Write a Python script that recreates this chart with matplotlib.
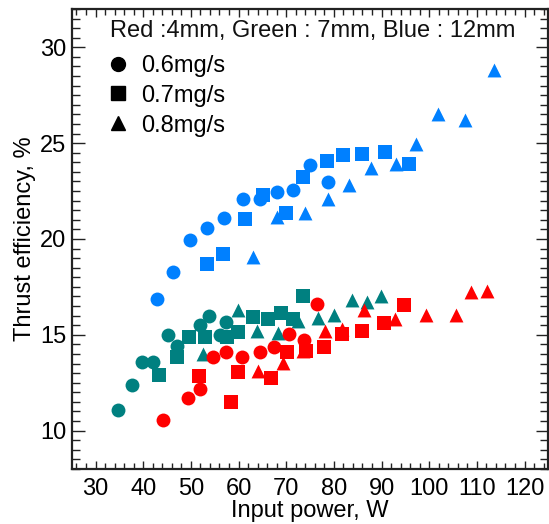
import matplotlib
matplotlib.use("Agg")
import matplotlib.pyplot as plt
from matplotlib.ticker import MultipleLocator, FixedLocator
from matplotlib.lines import Line2D

plt.rcParams['font.family'] = ['Liberation Sans', 'DejaVu Sans']

# ---- data (Input power W, Thrust efficiency %) ----
blue_circ_x = [42.8, 46.3, 49.8, 53.3, 57.0, 61.0, 64.5, 68.0, 71.5, 74.9, 78.7]
blue_circ_y = [16.88, 18.26, 19.95, 20.59, 21.09, 22.08, 22.08, 22.46, 22.58, 23.88, 22.97]
blue_sq_x = [53.3, 56.7, 61.4, 65.1, 69.9, 73.6, 78.5, 82.0, 86.0, 90.7, 95.7]
blue_sq_y = [18.71, 19.19, 21.02, 22.28, 21.33, 23.23, 24.05, 24.36, 24.44, 24.56, 23.92]
blue_tri_x = [63.1, 68.0, 73.9, 78.7, 83.2, 87.8, 93.0, 97.2, 101.9, 107.5, 113.6]
blue_tri_y = [19.04, 21.16, 21.33, 22.11, 22.80, 23.70, 23.92, 24.93, 26.51, 26.20, 28.81]

teal_circ_x = [34.8, 37.6, 39.8, 42.1, 45.1, 47.0, 51.9, 53.7, 56.1, 57.3]
teal_circ_y = [11.06, 12.39, 13.60, 13.60, 14.98, 14.39, 15.50, 15.98, 14.98, 15.68]
teal_sq_x = [43.3, 47.0, 49.7, 53.0, 57.5, 59.8, 63.0, 66.1, 68.9, 71.5, 73.6]
teal_sq_y = [12.92, 13.85, 14.86, 14.86, 14.86, 15.15, 15.94, 15.81, 16.15, 15.81, 17.02]
teal_tri_x = [52.5, 59.9, 63.8, 68.3, 72.5, 76.7, 80.1, 83.7, 86.9, 89.9]
teal_tri_y = [14.0, 16.29, 15.20, 15.11, 15.72, 15.89, 16.03, 16.79, 16.70, 17.02]

red_circ_x = [44.2, 49.3, 51.9, 54.7, 57.3, 60.7, 64.5, 67.5, 70.6, 73.7, 76.4]
red_circ_y = [10.58, 11.69, 12.18, 13.85, 14.08, 13.85, 14.08, 14.37, 15.06, 14.72, 16.59]
red_sq_x = [51.7, 58.4, 59.8, 66.8, 70.1, 74.2, 77.9, 81.8, 85.8, 90.5, 94.7]
red_sq_y = [12.83, 11.52, 13.04, 12.73, 14.11, 14.17, 14.34, 15.06, 15.20, 15.63, 16.55]
red_tri_x = [64.1, 69.3, 73.6, 78.1, 81.6, 86.4, 92.8, 99.3, 105.6, 108.8, 112.1]
red_tri_y = [13.13, 13.51, 14.17, 15.20, 15.29, 16.27, 15.81, 16.02, 16.02, 17.22, 17.31]

header = "Red :4mm, Green : 7mm, Blue : 12mm"
legend_labels = ["0.6mg/s", "0.7mg/s", "0.8mg/s"]
xlabel = "Input power, W"
ylabel = "Thrust efficiency, %"

BLUE = "#0080FF"
TEAL = "#008080"
RED = "#FF0000"

FS = 17

fig = plt.figure(figsize=(5.49, 5.24), dpi=100)
ax = fig.add_axes([0.1306, 0.105, 0.8683, 0.8779])

S_C, S_S, S_T = 100, 100, 100
groups = [
    (BLUE, blue_circ_x, blue_circ_y, blue_sq_x, blue_sq_y, blue_tri_x, blue_tri_y),
    (TEAL, teal_circ_x, teal_circ_y, teal_sq_x, teal_sq_y, teal_tri_x, teal_tri_y),
    (RED, red_circ_x, red_circ_y, red_sq_x, red_sq_y, red_tri_x, red_tri_y),
]
for col, cx, cy, sx, sy, tx, ty in groups:
    ax.scatter(tx, ty, s=S_T, marker='^', color=col, linewidths=0, zorder=3)
    ax.scatter(cx, cy, s=S_C, marker='o', color=col, linewidths=0, zorder=3)
    ax.scatter(sx, sy, s=S_S, marker='s', color=col, linewidths=0, zorder=3)

ax.set_xlim(25, 125)
ax.set_ylim(8, 32)
ax.xaxis.set_major_locator(FixedLocator(list(range(30, 121, 10))))
ax.xaxis.set_minor_locator(MultipleLocator(2))
ax.yaxis.set_major_locator(FixedLocator([10, 15, 20, 25, 30]))
ax.yaxis.set_minor_locator(MultipleLocator(0.5))

ax.tick_params(axis='both', which='both', direction='in', top=True, right=True,
               color='#222222', width=1.0)
ax.tick_params(axis='x', which='major', length=6, labelsize=FS, pad=6.5)
ax.tick_params(axis='x', which='minor', length=4)
ax.tick_params(axis='y', which='major', length=9, labelsize=FS, pad=4)
ax.tick_params(axis='y', which='minor', length=6)

for t in ax.xaxis.get_major_ticks():
    if abs(t.get_loc() - 100) < 1e-6:
        t.tick1line.set_markersize(10)
        t.tick2line.set_markersize(10)

for sp in ax.spines.values():
    sp.set_linewidth(1.6)
    sp.set_color('#222222')

ax.set_xlabel(xlabel, fontsize=FS, labelpad=0)
ax.set_ylabel(ylabel, fontsize=FS, labelpad=3)

ax.text(0.080, 0.939, header, transform=ax.transAxes, fontsize=FS,
        ha='left', va='baseline', color='#111111')

handles = [
    Line2D([], [], ls='none', marker='o', color='black', markersize=10),
    Line2D([], [], ls='none', marker='s', color='black', markersize=10),
    Line2D([], [], ls='none', marker='^', color='black', markersize=10),
]
ax.legend(handles, legend_labels, loc='upper left', bbox_to_anchor=(0.072, 0.900),
          frameon=False, fontsize=FS, handlelength=1.0, handletextpad=0.5,
          labelspacing=0.33, borderpad=0, borderaxespad=0)

fig.savefig("out.png", dpi=100)
